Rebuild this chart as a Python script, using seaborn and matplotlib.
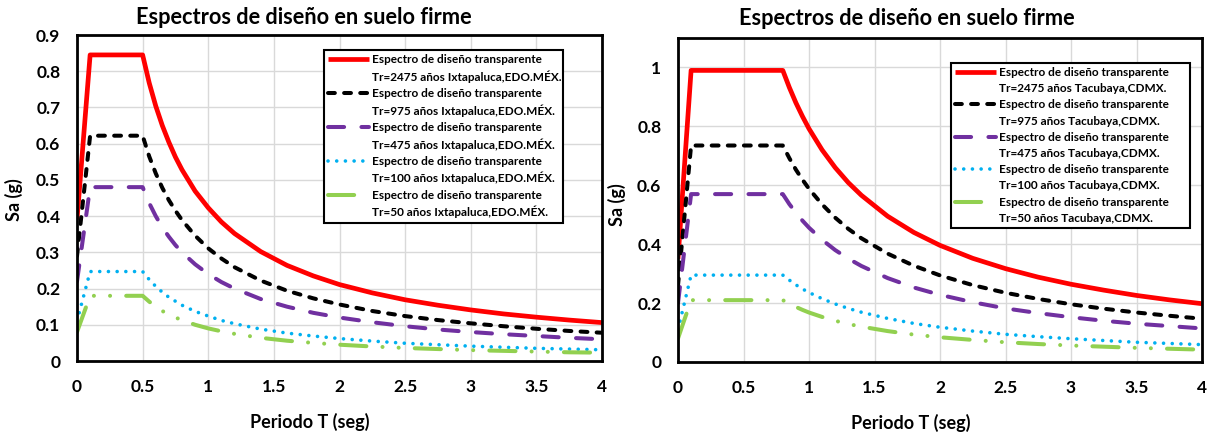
import matplotlib
matplotlib.use("Agg")
import matplotlib.pyplot as plt
from matplotlib.lines import Line2D
import seaborn as sns
import pandas as pd

sns.set_theme(style="white")
plt.rcParams['font.family'] = ['Lato', 'DejaVu Sans']
plt.rcParams['font.weight'] = 'bold'

# ---------------- data: Ixtapaluca (left) ----------------
T_left = [0, 0.1, 0.5, 0.55, 0.6, 0.65, 0.7, 0.75, 0.8, 0.9, 1.0, 1.1, 1.2, 1.4, 1.6,
          1.8, 2.0, 2.25, 2.5, 2.75, 3.0, 3.25, 3.5, 3.75, 4.0]
sa_left_2475 = [0.39, 0.845, 0.845, 0.768, 0.704, 0.650, 0.604, 0.563, 0.528, 0.469,
                0.423, 0.384, 0.352, 0.302, 0.264, 0.235, 0.211, 0.188, 0.169, 0.154,
                0.141, 0.130, 0.121, 0.113, 0.106]
sa_left_975 = [0.29, 0.622, 0.622, 0.565, 0.518, 0.478, 0.444, 0.415, 0.389, 0.346,
               0.311, 0.283, 0.259, 0.222, 0.194, 0.173, 0.156, 0.138, 0.124, 0.113,
               0.104, 0.096, 0.089, 0.083, 0.078]
sa_left_475 = [0.22, 0.48, 0.48, 0.436, 0.400, 0.369, 0.343, 0.320, 0.300, 0.267,
               0.240, 0.218, 0.200, 0.171, 0.150, 0.133, 0.120, 0.107, 0.096, 0.087,
               0.080, 0.074, 0.069, 0.064, 0.060]
sa_left_100 = [0.11, 0.247, 0.247, 0.225, 0.206, 0.190, 0.176, 0.165, 0.154, 0.137,
               0.124, 0.112, 0.103, 0.088, 0.077, 0.069, 0.062, 0.055, 0.049, 0.045,
               0.041, 0.038, 0.035, 0.033, 0.031]
sa_left_50 = [0.08, 0.18, 0.18, 0.164, 0.150, 0.138, 0.129, 0.120, 0.113, 0.100,
              0.090, 0.082, 0.075, 0.064, 0.056, 0.050, 0.045, 0.040, 0.036, 0.033,
              0.030, 0.028, 0.026, 0.024, 0.023]

# ---------------- data: Tacubaya (right) ----------------
T_right = [0, 0.1, 0.8, 0.85, 0.9, 0.95, 1.0, 1.1, 1.2, 1.3, 1.4, 1.6, 1.8, 2.0,
           2.25, 2.5, 2.75, 3.0, 3.25, 3.5, 3.75, 4.0]
sa_right_2475 = [0.35, 0.99, 0.99, 0.932, 0.880, 0.834, 0.792, 0.720, 0.660, 0.609,
                 0.566, 0.495, 0.440, 0.396, 0.352, 0.317, 0.288, 0.264, 0.244, 0.226,
                 0.211, 0.198]
sa_right_975 = [0.26, 0.735, 0.735, 0.692, 0.653, 0.619, 0.588, 0.535, 0.490, 0.452,
                0.420, 0.368, 0.327, 0.294, 0.261, 0.235, 0.214, 0.196, 0.181, 0.168,
                0.157, 0.147]
sa_right_475 = [0.20, 0.57, 0.57, 0.536, 0.507, 0.480, 0.456, 0.415, 0.380, 0.351,
                0.326, 0.285, 0.253, 0.228, 0.203, 0.182, 0.166, 0.152, 0.140, 0.130,
                0.122, 0.114]
sa_right_100 = [0.11, 0.295, 0.295, 0.278, 0.262, 0.248, 0.236, 0.215, 0.197, 0.182,
                0.169, 0.148, 0.131, 0.118, 0.105, 0.094, 0.086, 0.079, 0.073, 0.067,
                0.063, 0.059]
sa_right_50 = [0.08, 0.21, 0.21, 0.198, 0.187, 0.177, 0.168, 0.153, 0.140, 0.129,
               0.120, 0.105, 0.093, 0.084, 0.075, 0.067, 0.061, 0.056, 0.052, 0.048,
               0.045, 0.042]

return_periods = ["2475", "975", "475", "100", "50"]
sites = ["Ixtapaluca,EDO.MÉX.", "Tacubaya,CDMX."]
legend_head = "Espectro de diseño transparente"
title = "Espectros de diseño en suelo firme"
xlabel = "Periodo T (seg)"
ylabel = "Sa (g)"
xticks = [0, 0.5, 1, 1.5, 2, 2.5, 3, 3.5, 4]
xticklabels = ["0", "0.5", "1", "1.5", "2", "2.5", "3", "3.5", "4"]
yticks_left = [0, 0.1, 0.2, 0.3, 0.4, 0.5, 0.6, 0.7, 0.8, 0.9]
yticklabels_left = ["0", "0.1", "0.2", "0.3", "0.4", "0.5", "0.6", "0.7", "0.8", "0.9"]
yticks_right = [0, 0.2, 0.4, 0.6, 0.8, 1.0]
yticklabels_right = ["0", "0.2", "0.4", "0.6", "0.8", "1"]

# ---------------- styles ----------------
styles = [
    dict(color="#FF0000", lw=3.4, dashes=None),
    dict(color="#000000", lw=2.9, dashes=(1.7, 2.3)),
    dict(color="#7030A0", lw=2.9, dashes=(4.0, 4.3)),
    dict(color="#00B0F0", lw=2.6, dashes=(0.01, 2.4)),
    dict(color="#92D050", lw=2.9, dashes=(6.5, 4.0, 0.01, 4.0, 0.01, 4.0)),
]

fig = plt.figure(figsize=(12.12, 4.37), dpi=100)
ax_l = fig.add_axes([77 / 1212, 1 - 361 / 437, 525 / 1212, 326 / 437])
ax_r = fig.add_axes([678 / 1212, 1 - 362 / 437, 524 / 1212, 324 / 437])


def draw(ax, T, series, site, yticks, yticklabels, ylim, leg_box, lab_pos, title_pos):
    handles, labels = [], []
    for rp, sa, st in zip(return_periods, series, styles):
        df = pd.DataFrame({"T": T, "Sa": sa})
        sns.lineplot(data=df, x="T", y="Sa", ax=ax, color=st["color"], lw=st["lw"],
                     sort=False, estimator=None, legend=False)
        ln = ax.lines[-1]
        ln.set_solid_capstyle("butt")
        ln.set_solid_joinstyle("round")
        if st["dashes"] is not None:
            ln.set_dashes(st["dashes"])
            ln.set_dash_capstyle("round")
            ln.set_dash_joinstyle("round")
        handles += [ln, Line2D([], [], color="none")]
        labels += [legend_head, f"Tr={rp} años {site}"]
    ax.set_xlim(0, 4)
    ax.set_ylim(*ylim)
    ax.set_xticks(xticks)
    ax.set_xticklabels(xticklabels)
    ax.set_yticks(yticks)
    ax.set_yticklabels(yticklabels)
    ax.grid(True, color="#D9D9D9", lw=1.0)
    ax.set_axisbelow(True)
    for s in ax.spines.values():
        s.set_color("black")
        s.set_linewidth(2.0)
        s.set_visible(True)
    ax.tick_params(axis="both", length=0, labelsize=12.5, colors="black")
    ax.tick_params(axis="x", pad=13)
    ax.tick_params(axis="y", pad=12)
    for t in ax.get_xticklabels() + ax.get_yticklabels():
        t.set_fontweight("bold")
    ax.set_xlabel(xlabel, fontsize=13, fontweight="bold", color="black")
    ax.set_ylabel(ylabel, fontsize=13, fontweight="bold", color="black")
    ax.xaxis.set_label_coords(lab_pos[0], lab_pos[1])
    ax.yaxis.set_label_coords(lab_pos[2], lab_pos[3])
    ax.text(title_pos[0], title_pos[1], title, transform=ax.transAxes, ha="center",
            va="center", fontsize=15.7, fontweight="bold", color="black")
    leg = ax.legend(handles, labels, loc="upper left", bbox_to_anchor=leg_box,
                    mode="expand", borderaxespad=0, fontsize=8.5, frameon=True,
                    fancybox=False, framealpha=1, edgecolor="black",
                    handlelength=3.5, handletextpad=0.2, labelspacing=0.44,
                    borderpad=0.35)
    leg.get_frame().set_linewidth(1.5)
    for t in leg.get_texts():
        t.set_fontweight("bold")
        t.set_color("black")


draw(ax_l, T_left, [sa_left_2475, sa_left_975, sa_left_475, sa_left_100, sa_left_50],
     sites[0], yticks_left, yticklabels_left, (0, 0.9), (0.4705, 0.954 - 0.5, 0.455, 0.5),
     (0.444, -0.160, -0.103, 0.494), (0.432, 1.055))
draw(ax_r, T_right, [sa_right_2475, sa_right_975, sa_right_475, sa_right_100, sa_right_50],
     sites[1], yticks_right, yticklabels_right, (0, 1.1), (0.521, 0.923 - 0.5, 0.456, 0.5),
     (0.445, -0.160, -0.099, 0.485), (0.437, 1.059))

fig.savefig("out.png", dpi=100, facecolor="white")
